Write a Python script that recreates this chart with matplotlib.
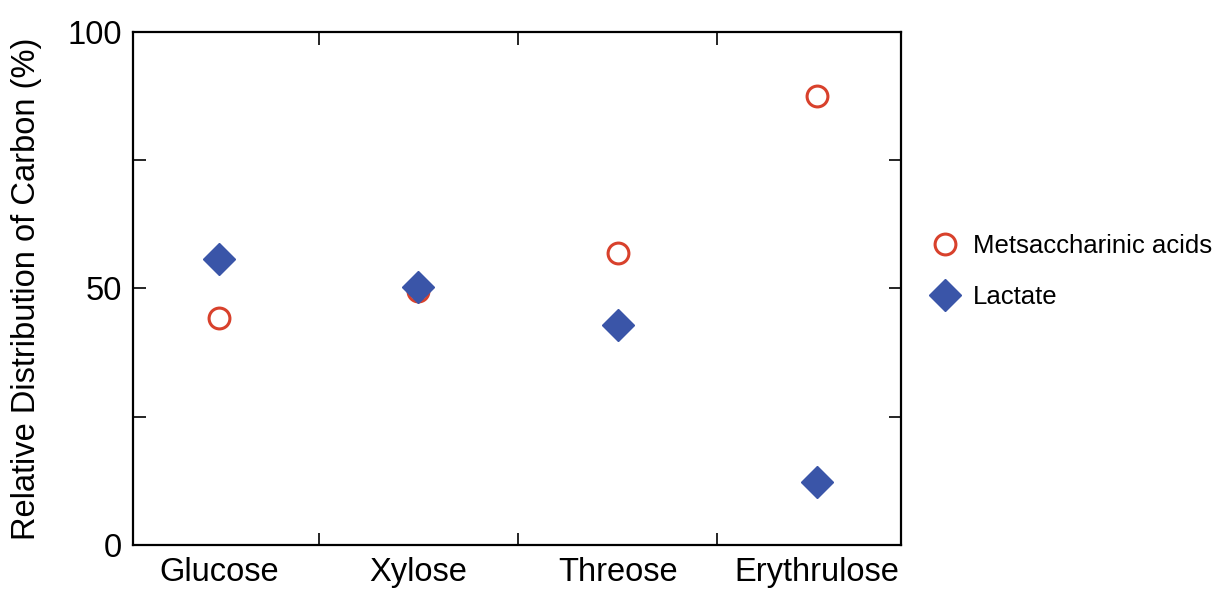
import matplotlib
matplotlib.use('Agg')
import matplotlib.pyplot as plt
from matplotlib.ticker import MultipleLocator

plt.rcParams['font.family'] = ['Liberation Sans', 'DejaVu Sans']

sugars = ['Glucose', 'Xylose', 'Threose', 'Erythrulose']
metsaccharinic = [44.2, 49.5, 56.9, 87.5]
lactate = [55.7, 50.3, 42.9, 12.3]

RED = '#d8412c'
BLUE = '#3a55a8'

fig = plt.figure(figsize=(12.18, 5.90), dpi=100)
ax = fig.add_axes([0.1092, 0.0763, 0.6305, 0.8695])

x = list(range(len(sugars)))
ax.plot(x, metsaccharinic, 'o', ms=15, mfc='none', mec=RED, mew=2.2,
        ls='none', label='Metsaccharinic acids', zorder=3)
ax.plot(x, lactate, 'D', ms=16, color=BLUE, ls='none', label='Lactate', zorder=4)

ax.set_xlim(-0.43, 3.42)
ax.set_ylim(0, 100)
ax.set_xticks(x)
ax.set_xticklabels(sugars)
ax.set_xticks([0.5, 1.5, 2.5], minor=True)
ax.yaxis.set_major_locator(MultipleLocator(50))
ax.yaxis.set_minor_locator(MultipleLocator(25))

ax.tick_params(axis='x', which='major', length=0, labelsize=23.5, pad=9)
ax.tick_params(axis='x', which='minor', direction='in', top=True, bottom=True,
               length=9, width=1.2)
ax.tick_params(axis='y', which='both', direction='in', left=True, right=True,
               length=9, width=1.2, labelsize=23.5, pad=8)
for s in ax.spines.values():
    s.set_linewidth(1.6)

ax.set_ylabel('Relative Distribution of Carbon (%)', fontsize=23.5, labelpad=18)

ax.legend(loc='center left', bbox_to_anchor=(0.745, 0.540), bbox_transform=fig.transFigure,
          frameon=False, fontsize=18.5, handletextpad=0.55, labelspacing=1.05,
          handlelength=1.1)

plt.savefig('out.png', dpi=100)
